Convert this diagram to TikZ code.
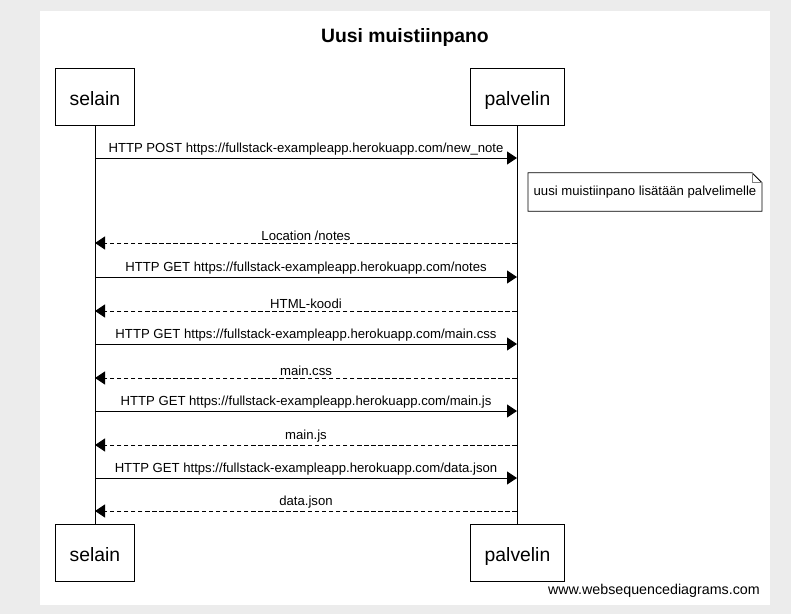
\documentclass[tikz,border=0pt]{standalone}
\usepackage{fontspec}
\setmainfont{Liberation Sans}
\usetikzlibrary{arrows.meta}
\definecolor{bggray}{HTML}{ECECEC}

\begin{document}
\begin{tikzpicture}[
    x=0.75pt, y=-0.75pt,
    actor/.style={rectangle,draw=black,fill=white,line width=0.75pt,inner xsep=10.8pt,minimum height=42.75pt,
        text height=14pt,text depth=0pt,font=\fontsize{14.5}{17}\selectfont},
    msg/.style={line width=0.75pt,-{Triangle[length=7.5pt,width=9.75pt]}},
    reply/.style={msg,dash pattern=on 3.4pt off 1.9pt},
    lbl/.style={font=\fontsize{9.85}{11}\selectfont,inner sep=1.5pt},
    ]
    % background and sheet
    \fill[bggray] (0,0) rectangle (791,614);
    \fill[white] (40,11) rectangle (770,605);
    \node[font=\bfseries\fontsize{14.5}{17}\selectfont] (title) at (405,37.5) {Uusi muistiinpano};

    % participants
    \node[actor] (s1) at (95,96.5) {selain};
    \node[actor] (p1) at (517.5,96.5) {palvelin};
    \node[actor] (s2) at (95,552.5) {selain};
    \node[actor] (p2) at (517.5,552.5) {palvelin};
    \draw[line width=0.75pt] (s1) -- (s2);
    \draw[line width=0.75pt] (p1) -- (p2);

    % message levels on the lifelines
    \foreach \y [count=\i] in {158,243,277,311,344,378,411,445,478,511} {
        \coordinate (sl\i) at (95,\y);
        \coordinate (pl\i) at (517,\y);
    }

    \draw[msg] (sl1) -- (pl1) node[midway,above,lbl] {HTTP POST https://fullstack-exampleapp.herokuapp.com/new\_note};
    \node[lbl,minimum width=175pt,minimum height=28.5pt] (note) at (645,192) {uusi muistiinpano lisätään palvelimelle};
    \draw[line width=0.6pt] (note.south west) -- (note.north west) -- ([xshift=-7.5pt]note.north east)
        -- ([yshift=-7.5pt]note.north east) -- (note.south east) -- cycle;
    \draw[gray,line width=0.6pt] ([xshift=-7.5pt]note.north east) -- ([xshift=-7.5pt,yshift=-7.5pt]note.north east) -- ([yshift=-7.5pt]note.north east);
    \draw[reply] (pl2) -- (sl2) node[midway,above,lbl] {Location /notes};
    \draw[msg] (sl3) -- (pl3) node[midway,above,lbl] {HTTP GET https://fullstack-exampleapp.herokuapp.com/notes};
    \draw[reply] (pl4) -- (sl4) node[midway,above,lbl] {HTML-koodi};
    \draw[msg] (sl5) -- (pl5) node[midway,above,lbl] {HTTP GET https://fullstack-exampleapp.herokuapp.com/main.css};
    \draw[reply] (pl6) -- (sl6) node[midway,above,lbl] {main.css};
    \draw[msg] (sl7) -- (pl7) node[midway,above,lbl] {HTTP GET https://fullstack-exampleapp.herokuapp.com/main.js};
    \draw[reply] (pl8) -- (sl8) node[midway,above,lbl] {main.js};
    \draw[msg] (sl9) -- (pl9) node[midway,above,lbl] {HTTP GET https://fullstack-exampleapp.herokuapp.com/data.json};
    \draw[reply] (pl10) -- (sl10) node[midway,above,lbl] {data.json};

    \node[lbl,anchor=east,font=\fontsize{10.7}{12}\selectfont] (wsd) at (762,591) {www.websequencediagrams.com};
\end{tikzpicture}
\end{document}
